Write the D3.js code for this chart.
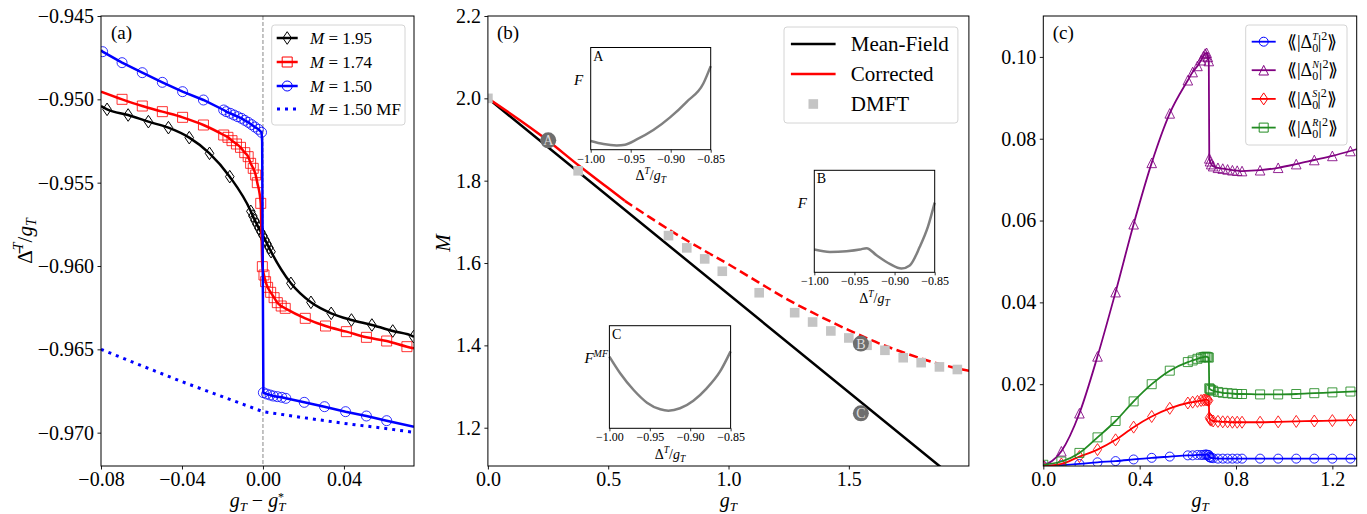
<!DOCTYPE html>
<html><head><meta charset="utf-8">
<script src="https://cdn.jsdelivr.net/npm/d3@7"></script>
<style>
body{margin:0;background:#fff}
svg text{font-family:"Liberation Serif","Times New Roman",serif;fill:#000}
</style></head>
<body><svg id="c" width="1367" height="514"></svg>
<script>
// ---------------- DATA ----------------
// Panel (a): x = g_T - g_T^*, y = Δ̄^T / g_T
const aTicksX = [-0.08, -0.04, 0.00, 0.04];
const aTicksY = [-0.970, -0.965, -0.960, -0.955, -0.950, -0.945];
// M = 1.95 (black diamonds)
const m195X = [-0.0770,-0.0666,-0.0566,-0.0467,-0.0364,-0.0264,-0.0164,-0.0060,-0.0050,-0.0040,-0.0030,-0.0020,-0.0010,0.0000,0.0010,0.0020,0.0030,0.0040,0.0138,0.0237,0.0337,0.0437,0.0538,0.0641,0.0744];
const m195Y = [-0.95060,-0.95094,-0.95134,-0.95170,-0.95230,-0.95324,-0.95464,-0.95672,-0.95700,-0.95726,-0.95750,-0.95774,-0.95796,-0.95818,-0.95842,-0.95866,-0.95890,-0.95914,-0.96104,-0.96218,-0.96284,-0.96324,-0.96354,-0.96390,-0.96424];
const m195Ends = [[-0.08, -0.95040], [0.0746, -0.96426]];
// M = 1.74 (red squares)
const m174X = [-0.0696,-0.0596,-0.0497,-0.0397,-0.0294,-0.0194,-0.0173,-0.0153,-0.0131,-0.0111,-0.0090,-0.0073,-0.0061,-0.0048,-0.0036,-0.0028,-0.0011,-0.0003,0.0005,0.0013,0.0023,0.0038,0.0055,0.0071,0.0090,0.0110,0.0209,0.0309,0.0412,0.0511,0.0611,0.0711];
const m174Y = [-0.95000,-0.95040,-0.95074,-0.95108,-0.95154,-0.95214,-0.95228,-0.95248,-0.95268,-0.95288,-0.95320,-0.95344,-0.95384,-0.95414,-0.95454,-0.95500,-0.95624,-0.96004,-0.96054,-0.96094,-0.96128,-0.96158,-0.96190,-0.96220,-0.96240,-0.96254,-0.96314,-0.96360,-0.96394,-0.96428,-0.96450,-0.96484];
const m174Ends = [[-0.08, -0.94954], [0.0746, -0.96494]];
const m174Mid = [-0.0007, -0.95820];
// M = 1.50 (blue circles)
const m150X = [-0.0792,-0.0696,-0.0596,-0.0497,-0.0397,-0.0294,-0.0194,-0.0181,-0.0161,-0.0143,-0.0125,-0.0106,-0.0090,-0.0073,-0.0056,-0.0040,-0.0023,-0.0007,0.0002,0.0018,0.0035,0.0051,0.0071,0.0093,0.0113,0.0204,0.0304,0.0408,0.0511,0.0611];
const m150Y = [-0.94714,-0.94780,-0.94840,-0.94898,-0.94954,-0.95004,-0.95064,-0.95074,-0.95084,-0.95094,-0.95104,-0.95114,-0.95126,-0.95138,-0.95152,-0.95166,-0.95180,-0.95198,-0.96760,-0.96768,-0.96774,-0.96780,-0.96784,-0.96788,-0.96794,-0.96818,-0.96844,-0.96874,-0.96900,-0.96928];
const m150Ends = [[-0.08, -0.94704], [0.0746, -0.96964]];
const m150Mid = [-0.0004, -0.95250];
// M = 1.50 mean field (blue dotted)
const mfX = [-0.08, -0.06, -0.04, -0.02, 0.00, 0.02, 0.04, 0.06, 0.0746];
const mfY = [-0.96500, -0.96598, -0.96694, -0.96784, -0.96874, -0.96910, -0.96944, -0.96974, -0.96998];
const aLegend = ["1.95", "1.74", "1.50", "1.50 MF"];

// Panel (b): x = g_T, y = M
const bTicksX = [0.0, 0.5, 1.0, 1.5];
const bTicksY = [1.2, 1.4, 1.6, 1.8, 2.0, 2.2];
const mfLineX = [0.0, 1.8765, 2.0];
const mfLineY = [2.000, 1.107, 1.048];
const corrSolidX = [0.0, 0.25, 0.375, 0.5, 0.569];
const corrSolidY = [2.000, 1.897, 1.838, 1.782, 1.751];
const corrDashX = [0.569, 0.75, 0.9, 1.0, 1.125, 1.25, 1.375, 1.5, 1.625, 1.75, 1.875, 2.0];
const corrDashY = [1.751, 1.682, 1.630, 1.597, 1.553, 1.510, 1.472, 1.437, 1.405, 1.378, 1.355, 1.338];
const dmftX = [0.0, 0.375, 0.7506, 0.8265, 0.901, 0.9741, 1.1274, 1.2749, 1.3494, 1.4253, 1.50, 1.5757, 1.650, 1.726, 1.8006, 1.8765, 1.951];
const dmftY = [2.000, 1.824, 1.6666, 1.6368, 1.610, 1.580, 1.5278, 1.4794, 1.4567, 1.435, 1.418, 1.4002, 1.388, 1.370, 1.358, 1.3477, 1.3414];
const pointLabels = ["A", "B", "C"];
const pointX = [0.2507, 1.55, 1.55];
const pointY = [1.898, 1.4043, 1.235];
const bLegend = ["Mean-Field", "Corrected", "DMFT"];
// Insets (free energy, arbitrary units normalised 0..1)
const insetTicks = [-1.00, -0.95, -0.90, -0.85];
const insetAX = [-1.0, -0.984, -0.9675, -0.957, -0.9425, -0.9217, -0.9008, -0.88, -0.8592, -0.85];
const insetAY = [0.085, 0.055, 0.042, 0.049, 0.100, 0.192, 0.316, 0.469, 0.648, 0.818];
const insetBX = [-1.0, -0.9805, -0.9598, -0.9432, -0.9349, -0.9225, -0.906, -0.8914, -0.8811, -0.8686, -0.8583, -0.85];
const insetBY = [0.223, 0.200, 0.207, 0.223, 0.237, 0.167, 0.083, 0.037, 0.067, 0.250, 0.450, 0.683];
const insetCX = [-1.0, -0.9867, -0.97, -0.9535, -0.937, -0.927, -0.9126, -0.8961, -0.8796, -0.8632, -0.85];
const insetCY = [0.698, 0.536, 0.373, 0.250, 0.185, 0.172, 0.195, 0.269, 0.390, 0.552, 0.750];

// Panel (c): x = g_T, y = <<|Δ0|^2>>
const cTicksX = [0.0, 0.4, 0.8, 1.2];
const cTicksY = [0.02, 0.04, 0.06, 0.08, 0.10];
const cX = [0.000,0.075,0.150,0.225,0.300,0.375,0.450,0.525,0.600,0.620,0.640,0.655,0.665,0.672,0.678,0.683,0.687,0.689,0.692,0.697,0.705,0.725,0.745,0.765,0.785,0.805,0.825,0.900,0.975,1.050,1.125,1.200,1.275];
const cT = [0.0000,0.0002,0.0005,0.0009,0.0012,0.0016,0.0020,0.0023,0.0026,0.0026,0.0027,0.0027,0.0027,0.0028,0.0028,0.0027,0.0027,0.0022,0.0021,0.0020,0.0019,0.0018,0.0018,0.0018,0.0018,0.0018,0.0018,0.0018,0.0018,0.0018,0.0018,0.0018,0.0018];
const cN = [0.0000,0.0036,0.0129,0.0268,0.0425,0.0591,0.0741,0.0862,0.0943,0.0963,0.0978,0.0992,0.1002,0.1008,0.1010,0.1000,0.0990,0.0752,0.0745,0.0738,0.0733,0.0729,0.0727,0.0725,0.0723,0.0722,0.0721,0.0723,0.0729,0.0738,0.0748,0.0758,0.0770];
const cS = [0.0000,0.0005,0.0023,0.0040,0.0064,0.0095,0.0121,0.0141,0.0154,0.0156,0.0158,0.0160,0.0161,0.0162,0.0162,0.0161,0.0160,0.0118,0.0114,0.0112,0.0110,0.0109,0.0108,0.0108,0.0107,0.0107,0.0107,0.0107,0.0108,0.0109,0.0110,0.0111,0.0112];
const cR = [0.0003,0.0011,0.0032,0.0070,0.0110,0.0158,0.0200,0.0233,0.0254,0.0258,0.0262,0.0265,0.0266,0.0267,0.0267,0.0266,0.0265,0.0190,0.0188,0.0186,0.0184,0.0181,0.0179,0.0178,0.0177,0.0176,0.0176,0.0175,0.0175,0.0176,0.0178,0.0180,0.0182];
const cEndX = 1.31;
const cEnd = {T: 0.0018, N: 0.0776, S: 0.0112, R: 0.0183};
const cLegend = ["T", "N", "S", "R"];

// ---------------- DRAWING ----------------
const svg = d3.select('#c');
const FONT = '"Liberation Serif","Times New Roman",serif';
let clipN = 0;

function panel(box, xd, yd) {
  const x = d3.scaleLinear().domain(xd).range([box.l, box.r]);
  const y = d3.scaleLinear().domain(yd).range([box.b, box.t]);
  const id = 'clip' + (clipN++);
  svg.append('clipPath').attr('id', id).append('rect')
    .attr('x', box.l).attr('y', box.t).attr('width', box.r - box.l).attr('height', box.b - box.t);
  const g = svg.append('g');
  const plot = g.append('g').attr('clip-path', `url(#${id})`);
  return {g, x, y, plot, box};
}
function axes(P, xt, xf, yt, yf, fs) {
  const {g, x, y, box} = P;
  const ax = g.append('g').attr('transform', `translate(0,${box.b})`)
    .call(d3.axisBottom(x).tickValues(xt).tickFormat(xf).tickSizeInner(3.5).tickSizeOuter(0).tickPadding(2.5));
  const ay = g.append('g').attr('transform', `translate(${box.l},0)`)
    .call(d3.axisLeft(y).tickValues(yt).tickFormat(yf).tickSizeInner(3.5).tickSizeOuter(0).tickPadding(3.5));
  [ax, ay].forEach(a => {
    a.select('.domain').remove();
    a.attr('font-size', fs).attr('font-family', FONT);
    a.selectAll('line').attr('stroke', '#000').attr('stroke-width', 0.9);
    a.selectAll('text').attr('fill', '#000');
  });
  g.append('rect').attr('x', box.l).attr('y', box.t).attr('width', box.r - box.l).attr('height', box.b - box.t)
    .attr('fill', 'none').attr('stroke', '#000').attr('stroke-width', 1);
}
function drawLine(P, pts, color, w, dash, curve) {
  P.plot.append('path').datum(pts)
    .attr('d', d3.line().x(d => P.x(d[0])).y(d => P.y(d[1])).curve(curve || d3.curveMonotoneX))
    .attr('fill', 'none').attr('stroke', color).attr('stroke-width', w)
    .attr('stroke-dasharray', dash || null);
}
function shape(type, s) {
  if (type === 'o') return `M${s},0A${s},${s},0,1,1,${-s},0A${s},${s},0,1,1,${s},0Z`;
  if (type === 's') return `M${-s},${-s}h${2*s}v${2*s}h${-2*s}Z`;
  if (type === 'd') { const hw = s * 0.68; return `M0,${-s}L${hw},0L0,${s}L${-hw},0Z`; }
  if (type === '^') return `M0,${-s}L${s},${s}L${-s},${s}Z`;
}
function drawMarkers(P, xs, ys, type, s, stroke, fill, op) {
  P.plot.append('g').selectAll('path').data(d3.zip(xs, ys)).join('path')
    .attr('transform', d => `translate(${P.x(d[0])},${P.y(d[1])})`)
    .attr('d', shape(type, s))
    .attr('fill', fill || 'none').attr('stroke', stroke).attr('stroke-width', 1)
    .attr('stroke-opacity', op || 1);
}
function sub(t, txt, fs, dy, italic, dx) {
  const ts = t.append('tspan').attr('font-size', fs).attr('dy', dy).text(txt);
  if (italic) ts.attr('font-style', 'italic');
  if (dx) ts.attr('dx', dx);
  return ts;
}

// ===== Panel (a) =====
const A = panel({l: 101, r: 414, t: 16, b: 466}, [-0.08, 0.0746], [-0.9720, -0.945]);
A.plot.append('line').attr('x1', A.x(0)).attr('x2', A.x(0)).attr('y1', A.box.t).attr('y2', A.box.b)
  .attr('stroke', '#888').attr('stroke-width', 1).attr('stroke-dasharray', '4,2');
const p195 = [m195Ends[0], ...d3.zip(m195X, m195Y), m195Ends[1]];
drawLine(A, p195, '#000', 2.5);
drawMarkers(A, m195X, m195Y, 'd', 6.3, '#000');
const z174 = d3.zip(m174X, m174Y);
const p174 = [m174Ends[0], ...z174.slice(0, 17), m174Mid, ...z174.slice(17), m174Ends[1]];
drawLine(A, p174, '#ff0000', 2.5);
drawMarkers(A, m174X, m174Y, 's', 5, '#ff0000', null, 0.8);
const z150 = d3.zip(m150X, m150Y);
const p150 = [m150Ends[0], ...z150.slice(0, 18), m150Mid, ...z150.slice(18), m150Ends[1]];
drawLine(A, p150, '#0000ff', 2.5, null, d3.curveLinear);
drawMarkers(A, m150X, m150Y, 'o', 5, '#0000ff', null, 0.8);
drawLine(A, d3.zip(mfX, mfY), '#0000ff', 3, '3,5', d3.curveLinear);
axes(A, aTicksX, d3.format('.2f'), aTicksY, d3.format('.3f'), 20);
// (a) labels
A.g.append('text').attr('x', 111).attr('y', 39).attr('font-size', 19).text('(a)');
{
  const t = A.g.append('text').attr('transform', 'translate(32,241) rotate(-90)').attr('text-anchor', 'middle').attr('font-size', 21);
  t.append('tspan').text('Δ\u0304');
  sub(t, 'T', 14, -9, true);
  sub(t, '/', 21, 9);
  sub(t, 'g', 21, 0, true);
  sub(t, 'T', 14, 4, true);
}
{
  const t = A.g.append('text').attr('x', 257.5).attr('y', 507).attr('text-anchor', 'middle').attr('font-size', 20);
  sub(t, 'g', 20, 0, true);
  sub(t, 'T', 13, 4, true);
  sub(t, ' − ', 20, -4);
  sub(t, 'g', 20, 0, true);
  sub(t, 'T', 13, 4, true);
  sub(t, '*', 12, -10, false, -7.5);
}
// (a) legend
{
  const g = A.g.append('g');
  g.append('rect').attr('x', 271.7).attr('y', 25).attr('width', 133.3).attr('height', 100).attr('rx', 3)
    .attr('fill', '#fff').attr('fill-opacity', 0.85).attr('stroke', '#d4d4d4');
  const rows = [38, 62, 86, 109];
  const cols = ['#000', '#ff0000', '#0000ff', '#0000ff'];
  const types = ['d', 's', 'o', null];
  rows.forEach((ry, i) => {
    if (i < 3) {
      g.append('line').attr('x1', 276.7).attr('x2', 297.7).attr('y1', ry).attr('y2', ry).attr('stroke', cols[i]).attr('stroke-width', 2.5);
      g.append('path').attr('transform', `translate(287.2,${ry})`).attr('d', shape(types[i], types[i] === 'd' ? 6.3 : 5))
        .attr('fill', 'none').attr('stroke', cols[i]).attr('stroke-width', 1);
    } else {
      g.append('line').attr('x1', 277).attr('x2', 299).attr('y1', ry).attr('y2', ry).attr('stroke', cols[i]).attr('stroke-width', 3).attr('stroke-dasharray', '3,5');
    }
    const t = g.append('text').attr('x', 310).attr('y', ry + 6).attr('font-size', 17);
    t.append('tspan').attr('font-style', 'italic').text('M');
    t.append('tspan').text(' = ' + aLegend[i]);
  });
}

// ===== Panel (b) =====
const B = panel({l: 487.9, r: 968.9, t: 16, b: 466}, [0, 1.999], [1.107, 2.2]);
drawLine(B, d3.zip(mfLineX, mfLineY), '#000', 2.5, null, d3.curveLinear);
drawLine(B, d3.zip(corrSolidX, corrSolidY), '#ff0000', 2.5);
drawLine(B, d3.zip(corrDashX, corrDashY), '#ff0000', 2.5, '9,4.5', d3.curveCatmullRom);
B.plot.append('g').selectAll('rect').data(d3.zip(dmftX, dmftY)).join('rect')
  .attr('x', d => B.x(d[0]) - 4.8).attr('y', d => B.y(d[1]) - 4.8).attr('width', 9.6).attr('height', 9.6)
  .attr('fill', '#c4c4c4');
pointLabels.forEach((lab, i) => {
  const cx = B.x(pointX[i]), cy = B.y(pointY[i]);
  B.plot.append('circle').attr('cx', cx).attr('cy', cy).attr('r', 8).attr('fill', '#6e6e6e');
  B.plot.append('text').attr('x', cx).attr('y', cy + 5).attr('text-anchor', 'middle').attr('font-size', 14)
    .style('fill', '#dcdcdc').text(lab);
});
axes(B, bTicksX, d3.format('.1f'), bTicksY, d3.format('.1f'), 20);
B.g.append('text').attr('x', 497).attr('y', 39).attr('font-size', 19).text('(b)');
B.g.append('text').attr('transform', 'translate(450,243) rotate(-90)').attr('text-anchor', 'middle')
  .attr('font-size', 21).attr('font-style', 'italic').text('M');
{
  const t = B.g.append('text').attr('x', 728.4).attr('y', 507).attr('text-anchor', 'middle').attr('font-size', 20);
  sub(t, 'g', 20, 0, true);
  sub(t, 'T', 13, 4, true);
}
// (b) legend
{
  const g = B.g.append('g');
  g.append('rect').attr('x', 784).attr('y', 27).attr('width', 173.9).attr('height', 96).attr('rx', 3)
    .attr('fill', '#fff').attr('fill-opacity', 0.85).attr('stroke', '#d4d4d4');
  const rows = [44, 74, 104];
  g.append('line').attr('x1', 790.9).attr('x2', 835.6).attr('y1', rows[0]).attr('y2', rows[0]).attr('stroke', '#000').attr('stroke-width', 2.5);
  g.append('line').attr('x1', 790.9).attr('x2', 835.6).attr('y1', rows[1]).attr('y2', rows[1]).attr('stroke', '#ff0000').attr('stroke-width', 2.5);
  g.append('rect').attr('x', 813.3 - 4.8).attr('y', rows[2] - 4.8).attr('width', 9.6).attr('height', 9.6).attr('fill', '#c4c4c4');
  rows.forEach((ry, i) => g.append('text').attr('x', 850.8).attr('y', ry + 7).attr('font-size', 21).text(bLegend[i]));
}
// insets
function inset(box, xs, ys, letter, ylabBuilder) {
  const g = svg.append('g');
  const x = d3.scaleLinear().domain([-1.0, -0.85]).range([box.l, box.r]);
  const y = d3.scaleLinear().domain([0, 1]).range([box.b, box.t]);
  g.append('rect').attr('x', box.l).attr('y', box.t).attr('width', box.r - box.l).attr('height', box.b - box.t).attr('fill', '#fff');
  g.append('path').datum(d3.zip(xs, ys))
    .attr('d', d3.line().x(d => x(d[0])).y(d => y(d[1])).curve(d3.curveMonotoneX))
    .attr('fill', 'none').attr('stroke', '#808080').attr('stroke-width', 2.5);
  const ax = g.append('g').attr('transform', `translate(0,${box.b})`)
    .call(d3.axisBottom(x).tickValues(insetTicks).tickFormat(d3.format('.2f')).tickSizeInner(3).tickSizeOuter(0).tickPadding(1.5));
  ax.select('.domain').remove();
  ax.attr('font-size', 12).attr('font-family', FONT);
  ax.selectAll('line').attr('stroke', '#000').attr('stroke-width', 0.8);
  ax.selectAll('text').attr('fill', '#000');
  g.append('rect').attr('x', box.l).attr('y', box.t).attr('width', box.r - box.l).attr('height', box.b - box.t)
    .attr('fill', 'none').attr('stroke', '#000').attr('stroke-width', 1);
  g.append('text').attr('x', box.l + 2.5).attr('y', box.t + 13).attr('font-size', 14).text(letter);
  const t = g.append('text').attr('x', (box.l + box.r) / 2).attr('y', box.b + 30.5).attr('text-anchor', 'middle').attr('font-size', 14);
  t.append('tspan').text('Δ');
  sub(t, 'T', 9.5, -6, true);
  sub(t, '/', 14, 6);
  sub(t, 'g', 14, 0, true);
  sub(t, 'T', 9.5, 3, true);
  ylabBuilder(g, box);
}
inset({l: 590.7, r: 710.7, t: 47.5, b: 149.7}, insetAX, insetAY, 'A', (g, box) => {
  g.append('text').attr('x', box.l - 7.5).attr('y', box.t + 37.5).attr('text-anchor', 'end').attr('font-size', 15).attr('font-style', 'italic').text('F');
});
inset({l: 814.3, r: 934.7, t: 170.3, b: 272.3}, insetBX, insetBY, 'B', (g, box) => {
  g.append('text').attr('x', box.l - 7.5).attr('y', box.t + 37.5).attr('text-anchor', 'end').attr('font-size', 15).attr('font-style', 'italic').text('F');
});
inset({l: 609.4, r: 730.6, t: 325.7, b: 428.3}, insetCX, insetCY, 'C', (g, box) => {
  const t = g.insert('text', ':nth-child(2)').attr('x', box.l - 25).attr('y', box.t + 37).attr('font-size', 15).attr('font-style', 'italic');
  t.append('tspan').text('F');
  sub(t, 'MF', 10, -6, true);
});

// ===== Panel (c) =====
const C = panel({l: 1043.3, r: 1356.7, t: 16, b: 466}, [0, 1.301], [0, 0.11]);
const cSeries = [
  {k: 'T', y: cT, color: '#0000ff', m: 'o', s: 4.5},
  {k: 'N', y: cN, color: '#800080', m: '^', s: 4.8},
  {k: 'S', y: cS, color: '#ff0000', m: 'd', s: 6},
  {k: 'R', y: cR, color: '#228b22', m: 's', s: 4.5}
];
cSeries.forEach(sr => {
  const pts = [...d3.zip(cX, sr.y), [cEndX, cEnd[sr.k]]];
  drawLine(C, pts, sr.color, 1.8, null, d3.curveMonotoneX);
  drawMarkers(C, cX, sr.y, sr.m, sr.s, sr.color, null, 0.85);
});
axes(C, cTicksX, d3.format('.1f'), cTicksY, d3.format('.2f'), 20);
C.g.append('text').attr('x', 1052.7).attr('y', 39).attr('font-size', 19).text('(c)');
{
  const t = C.g.append('text').attr('x', 1200).attr('y', 507).attr('text-anchor', 'middle').attr('font-size', 20);
  sub(t, 'g', 20, 0, true);
  sub(t, 'T', 13, 4, true);
}
// (c) legend
{
  const g = C.g.append('g');
  g.append('rect').attr('x', 1245.7).attr('y', 25).attr('width', 101.3).attr('height', 120).attr('rx', 3)
    .attr('fill', '#fff').attr('fill-opacity', 0.85).attr('stroke', '#d4d4d4');
  const rows = [41.7, 70.2, 98.9, 127.6];
  cSeries.forEach((sr, i) => {
    const ry = rows[i];
    g.append('line').attr('x1', 1251.7).attr('x2', 1275.7).attr('y1', ry).attr('y2', ry).attr('stroke', sr.color).attr('stroke-width', 1.8);
    g.append('path').attr('transform', `translate(1263.7,${ry})`).attr('d', shape(sr.m, sr.s))
      .attr('fill', 'none').attr('stroke', sr.color).attr('stroke-width', 1);
    const t = g.append('text').attr('x', 1287).attr('y', ry + 6).attr('font-size', 18);
    t.append('tspan').text('⟪|Δ');
    sub(t, '0', 12, 4);
    sub(t, cLegend[i], 10, -12, true, -6);
    sub(t, '|', 18, 8);
    sub(t, '2', 12, -8);
    sub(t, '⟫', 18, 8);
  });
}
</script></body></html>
